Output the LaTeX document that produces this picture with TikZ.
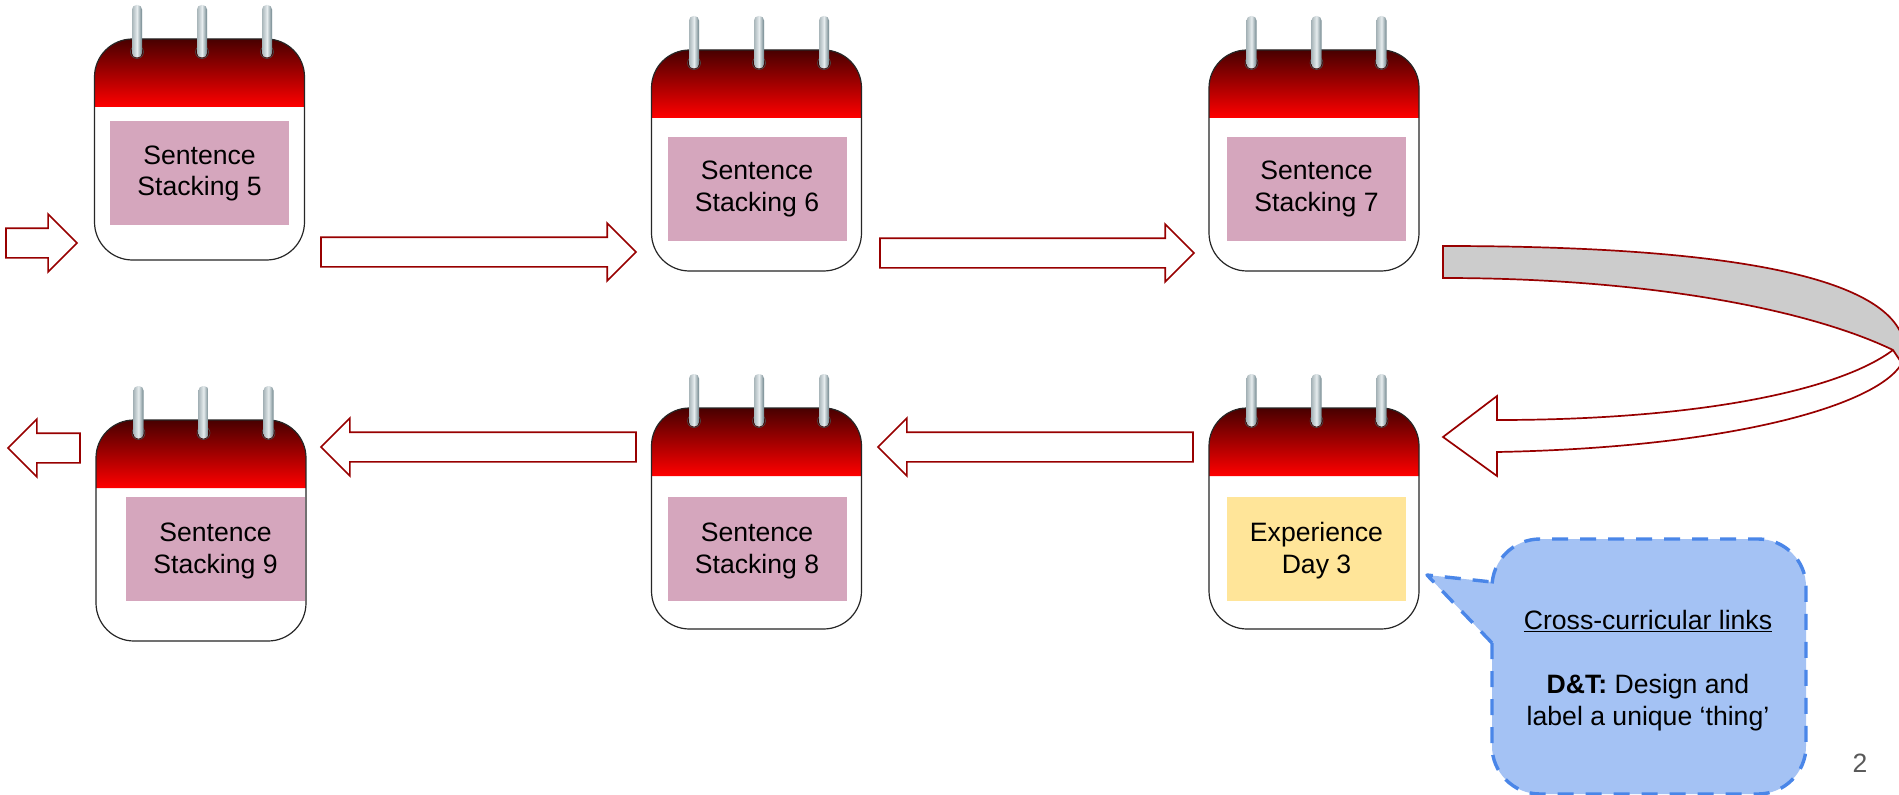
\documentclass[tikz,border=0pt]{standalone}
\usepackage{fontspec}
\setmainfont{Liberation Sans}
\usetikzlibrary{shapes.arrows,calc}
\definecolor{arrowred}{HTML}{980000}
\definecolor{pinkbox}{HTML}{D5A6BD}
\definecolor{yellowbox}{HTML}{FFE599}
\definecolor{calloutfill}{HTML}{A4C2F4}
\definecolor{calloutline}{HTML}{4A86E8}
\definecolor{numgray}{HTML}{595959}
\definecolor{ringdark}{HTML}{6F858C}
\definecolor{ringmid}{HTML}{E6ECEE}
\definecolor{headtop}{HTML}{480000}
\newcommand\daytext[3]{\raisebox{#1}[0pt][0pt]{\begin{tabular}[t]{@{}c@{}}#2\\#3\end{tabular}}}
\tikzset{
  x=1pt,y=-1pt,
  blockarrow/.style={draw=arrowred,line width=1.7pt,fill=white,single arrow,single arrow tip angle=90,
    single arrow head extend=14pt,minimum width=56pt,inner sep=0pt,outer sep=0pt,anchor=tail,
    text height=28pt,text depth=0pt},
  daybox/.style={inner sep=0pt,outer sep=0pt,minimum width=#1,minimum height=104pt,
    font=\fontsize{26.6pt}{32pt}\selectfont},
  pinkday/.style={daybox=#1,fill=pinkbox},
  yellowday/.style={daybox=#1,fill=yellowbox},
  pics/calendar/.style={code={
    \def\w{210}\def\h{221}\def\r{38}
    \path[top color=headtop,bottom color=red]
      (0,68) -- (0,\r) arc[start angle=180,end angle=90,x radius=\r,y radius=-\r] -- (\w-\r,0)
      arc[start angle=90,end angle=0,x radius=\r,y radius=-\r] -- (\w,68) -- cycle;
    \draw[black!85,line width=1.2pt,rounded corners=38pt] (0,0) rectangle (\w,\h);
    \foreach \rx in {42.5,107.5,172.5}{
      \fill[black!75!red,draw=black!70,line width=.6pt] (\rx,13) circle[radius=6.5];
      \fill[white!85!red] (\rx,13) circle[radius=4.5];
      \shade[left color=ringdark!60,right color=ringdark,middle color=ringmid,rounded corners=4.5pt]
        (\rx-5,-34) rectangle (\rx+5,18.5);
    }
  }}
}
\begin{document}
\begin{tikzpicture}
\useasboundingbox (0,0) rectangle (1899,794.5);
\fill[white] (0,0) rectangle (1899,794.5);
% calendars
\pic at (94.5,39) {calendar};
\pic at (651.5,50) {calendar};
\pic at (1209,50) {calendar};
\pic at (96,420) {calendar};
\pic at (651.5,408) {calendar};
\pic at (1209,408) {calendar};
% day boxes
\node[pinkday=179pt] (d5) at (199.5,173) {\daytext{9pt}{Sentence}{Stacking 5}};
\node[pinkday=179pt] (d6) at (757,189) {\daytext{9.3pt}{Sentence}{Stacking 6}};
\node[pinkday=179pt] (d7) at (1316.5,189) {\daytext{9.3pt}{Sentence}{Stacking 7}};
\node[yellowday=179pt] (e3) at (1316.5,549) {\daytext{8pt}{Experience}{Day 3}};
\node[pinkday=179pt] (d8) at (757,549) {\daytext{8pt}{Sentence}{Stacking 8}};
\node[pinkday=179pt] (d9) at (215.5,549) {\daytext{8pt}{Sentence}{Stacking 9}};
% straight block arrows
\node[blockarrow,minimum height=71pt] (a0) at (6,243) {};
\node[blockarrow,minimum height=315pt] (a1) at (321,252) {};
\node[blockarrow,minimum height=314pt] (a2) at (880,253) {};
\node[blockarrow,minimum height=315pt,shape border rotate=180] (a3) at (1193,447) {};
\node[blockarrow,minimum height=315pt,shape border rotate=180] (a4) at (636,447) {};
\node[blockarrow,minimum height=72pt,shape border rotate=180] (a5) at (80,448) {};
% curved block arrow
\coordinate (cT) at (1443,246);
\coordinate (cB) at (1443,278);
\coordinate (cX) at (1905,352);
\coordinate (cE) at (1905,368);
\coordinate (cN) at (1893,350);
\coordinate (cH) at (1443,437);
\draw[arrowred,line width=1.7pt,fill=white,line join=miter]
  (cN) .. controls (1840,390) and (1700,420) .. (1497,420) -- (1497,396) -- (cH) -- (1497,476) -- (1497,452)
  .. controls (1760,447) and (1905,395) .. (cX) -- cycle;
\draw[arrowred,line width=1.7pt,fill=black!20,line join=miter]
  (cT) .. controls (1720,246) and (1905,275) .. (cX) -- (cE) -- (cN)
  .. controls (1810,310) and (1650,278) .. (cB) -- cycle;
% callout
\draw[calloutline,fill=calloutfill,line width=3.4pt,dash pattern=on 16pt off 12pt,line join=round]
  (1492,643) -- (1492,746) arc[start angle=180,end angle=270,x radius=48,y radius=-48] -- (1758,794)
  arc[start angle=270,end angle=360,x radius=48,y radius=-48] -- (1806,587)
  arc[start angle=0,end angle=90,x radius=48,y radius=-48] -- (1540,539)
  arc[start angle=90,end angle=180,x radius=48,y radius=-48] -- (1492,582) -- (1427,575) -- cycle;
\node[align=center,inner sep=0pt,font=\fontsize{26.6pt}{32pt}\selectfont] (note) at (1648,670.5)
  {\underline{Cross-curricular links}\\[32.5pt]\textbf{D\&T:} Design and\\label a unique ‘thing’};
\node[inner sep=0pt,font=\fontsize{26.5pt}{32pt}\selectfont,text=numgray] (pg) at (1860,763) {2};
\end{tikzpicture}
\end{document}
